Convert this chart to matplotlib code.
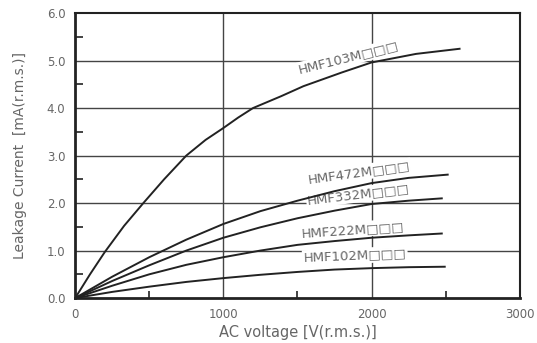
import numpy as np
import matplotlib.pyplot as plt
from matplotlib.ticker import MultipleLocator

# leakage current curves (V r.m.s. -> mA r.m.s.)
v_103 = [0, 100, 200, 330, 460, 600, 750, 880, 1000, 1100, 1200, 1390, 1540, 1800, 2000, 2300, 2600]
i_103 = [0, 0.50, 0.97, 1.52, 2.0, 2.50, 3.0, 3.33, 3.58, 3.80, 4.0, 4.25, 4.46, 4.75, 4.96, 5.14, 5.25]

v_472 = [0, 250, 500, 750, 1000, 1250, 1500, 1750, 2000, 2250, 2520]
i_472 = [0, 0.45, 0.86, 1.23, 1.56, 1.83, 2.05, 2.25, 2.42, 2.53, 2.60]

v_332 = [0, 250, 500, 750, 1000, 1250, 1500, 1750, 2000, 2250, 2480]
i_332 = [0, 0.36, 0.69, 1.00, 1.27, 1.49, 1.68, 1.84, 1.98, 2.05, 2.10]

v_222 = [0, 250, 500, 750, 1000, 1250, 1500, 1750, 2000, 2250, 2480]
i_222 = [0, 0.26, 0.50, 0.70, 0.86, 1.00, 1.12, 1.20, 1.27, 1.32, 1.36]

v_102 = [0, 250, 500, 750, 1000, 1250, 1500, 1750, 2000, 2250, 2500]
i_102 = [0, 0.13, 0.24, 0.34, 0.42, 0.49, 0.55, 0.60, 0.63, 0.65, 0.66]

names = ["HMF103M□□□", "HMF472M□□□", "HMF332M□□□", "HMF222M□□□", "HMF102M□□□"]
# label centre (data coords) and rotation
lab_x = [1847, 1913, 1913, 1873, 1887]
lab_y = [5.06, 2.64, 2.18, 1.44, 0.89]
lab_rot = [14, 8, 7, 4, 2.5]

txt = "#666666"
ink = "#222222"

fig = plt.figure(figsize=(5.37, 3.43), dpi=100)
ax = fig.add_axes([0.140, 0.131, 0.828, 0.831])

for v in [1000, 2000]:
    ax.axvline(v, color="#444444", lw=1.0, zorder=0)
for h in [1, 2, 3, 4, 5]:
    ax.axhline(h, color="#444444", lw=1.0, zorder=0)

for vv, ii in [(v_103, i_103), (v_472, i_472), (v_332, i_332), (v_222, i_222), (v_102, i_102)]:
    ax.plot(vv, ii, color=ink, lw=1.4, zorder=3, solid_capstyle="butt")

for n, x, y, r in zip(names, lab_x, lab_y, lab_rot):
    ax.text(x, y, n, rotation=r, ha="center", va="center", fontsize=9.5, color=txt,
            rotation_mode="anchor", zorder=2,
            bbox=dict(boxstyle="square,pad=0.1", fc="white", ec="none"))

ax.set_xlim(0, 3000)
ax.set_ylim(0, 6.0)
ax.set_xticks([0, 1000, 2000, 3000])
ax.set_yticks(np.arange(0, 6.5, 1.0))
ax.set_yticklabels([f"{t:.1f}" for t in np.arange(0, 6.5, 1.0)])
ax.xaxis.set_minor_locator(MultipleLocator(500))
ax.yaxis.set_minor_locator(MultipleLocator(0.5))
ax.tick_params(which="major", length=0, labelsize=8.5, labelcolor=txt, pad=7)
ax.tick_params(which="minor", direction="in", length=6, width=1.2, color=ink)
ax.tick_params(axis="x", which="minor", length=5)

for s in ["left", "bottom"]:
    ax.spines[s].set_linewidth(2.0)
for s in ["top", "right"]:
    ax.spines[s].set_linewidth(1.5)
for s in ax.spines.values():
    s.set_color(ink)

ax.set_xlabel("AC voltage [V(r.m.s.)]", fontsize=10.5, color=txt, labelpad=3)
ax.set_ylabel("Leakage Current  [mA(r.m.s.)]", fontsize=10, color=txt, labelpad=14)

fig.savefig("out.png", dpi=100)
